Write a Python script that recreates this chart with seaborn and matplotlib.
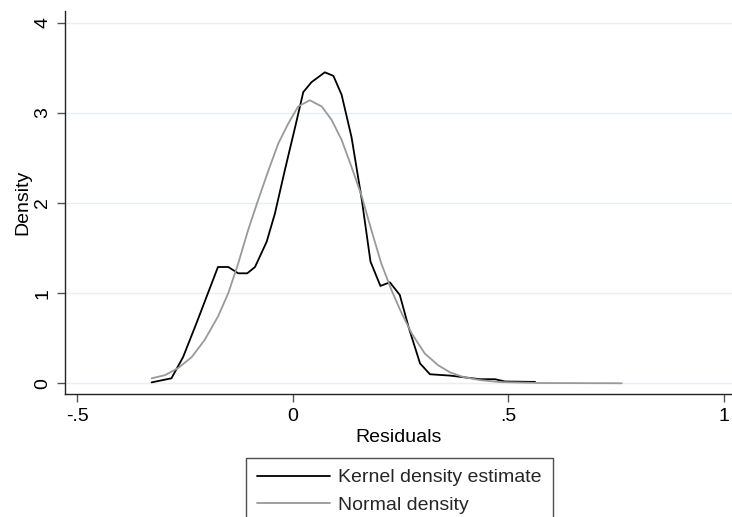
import matplotlib
matplotlib.use("Agg")
import matplotlib.pyplot as plt
import seaborn as sns
import pandas as pd

# Kernel density estimate
kde_x = [-0.328, -0.282, -0.255, -0.224, -0.194, -0.174, -0.150, -0.127, -0.106, -0.088,
         -0.061, -0.042, -0.019, 0.005, 0.024, 0.043, 0.074, 0.094, 0.113, 0.136,
         0.160, 0.180, 0.203, 0.225, 0.248, 0.268, 0.295, 0.318, 0.365, 0.434,
         0.469, 0.492, 0.562]
kde_y = [0.01, 0.055, 0.29, 0.665, 1.04, 1.29, 1.29, 1.22, 1.22, 1.29,
         1.57, 1.88, 2.36, 2.84, 3.23, 3.34, 3.45, 3.41, 3.20, 2.73,
         2.03, 1.35, 1.08, 1.12, 0.98, 0.63, 0.22, 0.10, 0.085, 0.045,
         0.045, 0.02, 0.015]

# Normal density
norm_x = [-0.328, -0.297, -0.266, -0.235, -0.205, -0.174, -0.150, -0.127, -0.104, -0.081,
          -0.057, -0.034, -0.011, 0.012, 0.039, 0.067, 0.090, 0.113, 0.136, 0.160,
          0.182, 0.205, 0.229, 0.252, 0.276, 0.306, 0.337, 0.365, 0.395, 0.434,
          0.481, 0.573, 0.763]
norm_y = [0.055, 0.09, 0.17, 0.29, 0.48, 0.74, 1.00, 1.33, 1.70, 2.03,
          2.36, 2.66, 2.88, 3.07, 3.14, 3.07, 2.92, 2.70, 2.40, 2.07,
          1.70, 1.33, 1.03, 0.78, 0.55, 0.33, 0.20, 0.12, 0.07, 0.035,
          0.013, 0.003, 0.0]

x_ticks = [-0.5, 0, 0.5, 1]
x_ticklabels = ["-.5", "0", ".5", "1"]
y_ticks = [0, 1, 2, 3, 4]
y_ticklabels = ["0", "1", "2", "3", "4"]

sns.set_theme(style="white")
plt.rcParams["font.family"] = ["Liberation Sans", "DejaVu Sans"]

W, H = 732, 517
fig = plt.figure(figsize=(W / 100, H / 100), dpi=100)
ax = fig.add_axes([65 / W, 1 - 394 / H, (732 - 65) / W, (394 - 11) / H])

df_kde = pd.DataFrame({"x": kde_x, "y": kde_y})
df_norm = pd.DataFrame({"x": norm_x, "y": norm_y})

sns.lineplot(data=df_kde, x="x", y="y", ax=ax, color="black", lw=1.3, sort=False,
             estimator=None, label="Kernel density estimate")
sns.lineplot(data=df_norm, x="x", y="y", ax=ax, color="#999999", lw=1.3, sort=False,
             estimator=None, label="Normal density")

ax.set_xlim(-0.529, 1.019)
ax.set_ylim(-0.119, 4.13)
ax.set_xticks(x_ticks)
ax.set_xticklabels(x_ticklabels)
ax.set_yticks(y_ticks)
ax.set_yticklabels(y_ticklabels, rotation=90, va="center")

for y in y_ticks:
    ax.axhline(y, color="#e6eff2", lw=1.0, zorder=0)

for s in ["top", "right"]:
    ax.spines[s].set_visible(False)
for s in ["left", "bottom"]:
    ax.spines[s].set_color("#222222")
    ax.spines[s].set_linewidth(1.0)

ax.tick_params(axis="both", which="major", direction="out", length=6, width=1.0,
               color="#555555", labelsize=14, labelcolor="black", bottom=True, left=True)
ax.tick_params(axis="x", pad=4)
ax.tick_params(axis="y", pad=4)

ax.set_xlabel("Residuals", fontsize=14, labelpad=3, color="black")
ax.set_ylabel("Density", fontsize=14, labelpad=2, color="black")

ax.get_legend().remove()
handles, labels = ax.get_legend_handles_labels()
leg = fig.legend(handles, labels, loc="upper left",
                 bbox_to_anchor=(246 / W, 1 - 458 / H), borderaxespad=0,
                 fontsize=14, frameon=True, fancybox=False, handlelength=3.75,
                 handletextpad=0.45, labelspacing=0.5, borderpad=0.55)
leg.get_frame().set_edgecolor("#222222")
leg.get_frame().set_linewidth(1.0)
for line in leg.get_lines():
    line.set_linewidth(1.3)

fig.savefig("out.png", dpi=100)
